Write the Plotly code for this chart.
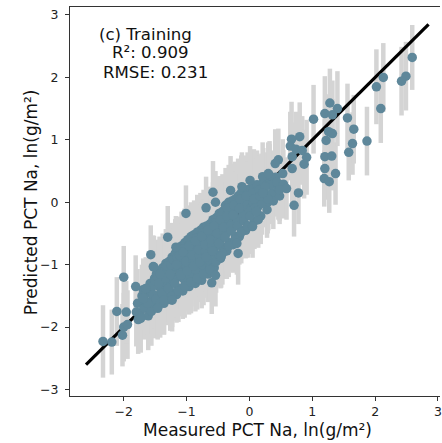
import plotly.graph_objects as go

# ---- data: measured (x), predicted (y), prediction uncertainty (half-length of bar)
upper_x = [2.59, 2.49, 2.42, 2.13, 2.02, 2.09, 1.87, 1.64, 1.66, 1.56, 1.58, 1.37,
           1.28, 1.40, 1.20, 1.32, 1.26, 1.32, 1.22, 1.20, 1.31, 1.20, 1.19, 1.27,
           1.02, 0.80, 0.67, 0.65, 0.74, 0.84, 0.91, 0.87, 0.68, 0.46, 0.68, 0.53,
           0.78, 0.71, 0.54, 0.32, 0.21, 0.01, 0.30, 0.41, 0.59, 0.48]
upper_y = [2.32, 2.02, 1.94, 2.00, 1.85, 1.50, 0.98, 0.94, 1.17, 1.35, 0.80, 0.46,
           1.59, 1.50, 1.42, 1.40, 1.13, 1.10, 0.99, 0.73, 0.74, 0.54, 0.38, 0.33,
           1.33, 1.05, 1.01, 0.90, 0.85, 0.83, 0.72, 0.61, 0.73, 0.68, 0.54, 0.46,
           0.15, -0.05, 0.29, 0.43, 0.41, 0.35, 0.46, 0.62, 0.22, 0.20]
upper_err = [0.52, 0.55, 0.55, 0.55, 0.60, 0.55, 0.55, 0.50, 0.55, 0.55, 0.45, 0.50,
             0.55, 0.60, 0.60, 0.55, 0.60, 0.55, 0.60, 0.60, 0.55, 0.50, 0.45, 0.50,
             0.55, 0.55, 0.60, 0.55, 0.60, 0.55, 0.60, 0.55, 0.55, 0.50, 0.55, 0.55,
             0.50, 0.50, 0.55, 0.55, 0.55, 0.55, 0.50, 0.55, 0.50, 0.50]

lower_x = [-2.33, -2.19, -2.02, -2.00, -1.94, -2.11, -2.00, -1.96, -1.81, -1.80, -1.73,
           -1.57, -1.53, -1.30, -1.17, -1.46, -1.62, -1.69, -1.65, -1.52, -1.42, -1.23]
lower_y = [-2.23, -2.24, -2.13, -2.00, -1.96, -1.75, -1.20, -1.76, -1.35, -1.76, -1.86,
           -0.84, -1.03, -0.56, -0.72, -1.70, -1.62, -1.54, -1.38, -1.04, -1.15, -1.57]
lower_err = [0.58, 0.52, 0.50, 0.55, 0.55, 0.55, 0.50, 0.50, 0.50, 0.55, 0.55,
             0.47, 0.50, 0.50, 0.50, 0.50, 0.50, 0.50, 0.50, 0.50, 0.50, 0.50]

edge_x = [-1.01, -0.69, -0.58, -0.54, -0.30, -0.12,
          -0.20, -0.18, -0.46, -0.54, -0.60, -0.03, 0.05, -0.45]
edge_y = [-0.18, -0.09, 0.16, 0.00, 0.19, 0.25,
          -0.66, -0.82, -0.88, -1.17, -1.29, -0.39, -0.39, -0.87]
edge_err = [0.45, 0.50, 0.50, 0.50, 0.55, 0.55,
            0.50, 0.50, 0.50, 0.50, 0.50, 0.50, 0.50, 0.50]

dense_x = [
    -1.78, -1.74, -1.71, -1.77,
    -1.68, -1.63, -1.66, -1.61, -1.69,
    -1.58, -1.54, -1.52, -1.57, -1.51, -1.56,
    -1.48, -1.44, -1.42, -1.47, -1.41, -1.46, -1.43,
    -1.38, -1.34, -1.32, -1.37, -1.31, -1.36, -1.33, -1.39,
    -1.28, -1.24, -1.22, -1.27, -1.21, -1.26, -1.23, -1.29, -1.20,
    -1.18, -1.14, -1.12, -1.17, -1.11, -1.16, -1.13, -1.19, -1.10,
    -1.08, -1.04, -1.02, -1.07, -1.01, -1.06, -1.03, -1.09, -1.00, -1.05,
    -0.98, -0.94, -0.92, -0.97, -0.91, -0.96, -0.93, -0.99, -0.90, -0.95,
    -0.88, -0.84, -0.82, -0.87, -0.81, -0.86, -0.83, -0.89, -0.80, -0.85,
    -0.78, -0.74, -0.72, -0.77, -0.71, -0.76, -0.73, -0.79, -0.70, -0.75,
    -0.68, -0.64, -0.62, -0.67, -0.61, -0.66, -0.63, -0.69, -0.60, -0.65,
    -0.58, -0.54, -0.52, -0.57, -0.51, -0.56, -0.53, -0.59, -0.50, -0.55,
    -0.48, -0.44, -0.42, -0.47, -0.41, -0.46, -0.43, -0.49, -0.40, -0.45,
    -0.38, -0.34, -0.32, -0.37, -0.31, -0.36, -0.33, -0.39, -0.30,
    -0.28, -0.24, -0.22, -0.27, -0.21, -0.26, -0.23, -0.29, -0.20,
    -0.18, -0.14, -0.12, -0.17, -0.11, -0.16, -0.13, -0.19, -0.10,
    -0.08, -0.04, -0.02, -0.07, -0.01, -0.06, -0.03, -0.09,
    0.02, 0.06, 0.08, 0.03, 0.09, 0.04, 0.07,
    0.12, 0.16, 0.18, 0.13, 0.19, 0.14,
    0.22, 0.26, 0.28, 0.23, 0.29,
    0.32, 0.36, 0.38, 0.34,
    0.42, 0.46, 0.48, 0.44]
dense_y = [
    -1.62, -1.80, -1.50, -1.88,
    -1.70, -1.45, -1.58, -1.82, -1.40,
    -1.30, -1.55, -1.68, -1.42, -1.22, -1.75,
    -1.15, -1.35, -1.60, -1.50, -1.25, -1.68, -1.10,
    -1.05, -1.28, -1.52, -1.40, -1.15, -1.62, -0.98, -1.20,
    -0.95, -1.18, -1.45, -1.32, -1.05, -1.56, -0.88, -1.12, -1.28,
    -0.82, -1.08, -1.38, -1.22, -0.95, -1.48, -0.78, -1.02, -1.18,
    -0.70, -0.98, -1.30, -1.12, -0.85, -1.42, -0.65, -0.90, -1.08, -1.22,
    -0.60, -0.88, -1.22, -1.05, -0.75, -1.35, -0.55, -0.80, -0.98, -1.15,
    -0.52, -0.80, -1.15, -0.98, -0.66, -1.30, -0.48, -0.72, -0.90, -1.08,
    -0.45, -0.72, -1.08, -0.92, -0.58, -1.25, -0.40, -0.65, -0.82, -1.00,
    -0.38, -0.62, -1.00, -0.85, -0.50, -1.15, -0.35, -0.55, -0.75, -0.92,
    -0.28, -0.52, -0.90, -0.75, -0.40, -1.05, -0.25, -0.45, -0.65, -0.82,
    -0.18, -0.42, -0.78, -0.62, -0.30, -0.90, -0.15, -0.35, -0.55, -0.70,
    -0.05, -0.30, -0.65, -0.50, -0.18, -0.78, 0.00, -0.25, -0.42,
    0.02, -0.22, -0.55, -0.40, -0.10, -0.68, 0.05, -0.15, -0.32,
    0.10, -0.12, -0.45, -0.30, 0.00, -0.55, 0.15, -0.05, -0.22,
    0.15, -0.08, -0.38, -0.22, 0.05, -0.45, 0.20, 0.00,
    0.22, 0.00, -0.30, -0.15, 0.12, -0.38, 0.25,
    0.28, 0.05, -0.22, -0.08, 0.18, -0.28,
    0.32, 0.10, -0.12, 0.20, 0.00,
    0.38, 0.15, 0.02, 0.28,
    0.40, 0.22, 0.10, 0.32]
dense_err = [
    0.55, 0.50, 0.50, 0.55,
    0.50, 0.55, 0.50, 0.55, 0.50,
    0.50, 0.55, 0.50, 0.55, 0.50, 0.55,
    0.55, 0.50, 0.50, 0.55, 0.60, 0.50, 0.55,
    0.55, 0.50, 0.45, 0.55, 0.60, 0.50, 0.55, 0.50,
    0.55, 0.50, 0.45, 0.55, 0.60, 0.50, 0.55, 0.50, 0.45,
    0.55, 0.50, 0.45, 0.55, 0.60, 0.45, 0.55, 0.50, 0.50,
    0.55, 0.50, 0.45, 0.55, 0.60, 0.45, 0.55, 0.50, 0.50, 0.45,
    0.55, 0.50, 0.45, 0.55, 0.60, 0.45, 0.55, 0.50, 0.50, 0.45,
    0.55, 0.50, 0.45, 0.55, 0.60, 0.45, 0.60, 0.50, 0.50, 0.45,
    0.60, 0.50, 0.45, 0.55, 0.60, 0.45, 0.60, 0.50, 0.50, 0.45,
    0.60, 0.50, 0.45, 0.55, 0.60, 0.45, 0.60, 0.50, 0.50, 0.45,
    0.60, 0.50, 0.45, 0.55, 0.60, 0.45, 0.60, 0.50, 0.50, 0.45,
    0.60, 0.50, 0.45, 0.55, 0.60, 0.45, 0.60, 0.50, 0.50, 0.45,
    0.60, 0.50, 0.45, 0.55, 0.60, 0.45, 0.60, 0.50, 0.50,
    0.60, 0.50, 0.45, 0.55, 0.60, 0.45, 0.60, 0.50, 0.50,
    0.60, 0.50, 0.45, 0.55, 0.60, 0.45, 0.60, 0.50, 0.50,
    0.60, 0.50, 0.45, 0.55, 0.60, 0.45, 0.60, 0.50,
    0.60, 0.50, 0.45, 0.55, 0.60, 0.45, 0.60,
    0.55, 0.50, 0.45, 0.55, 0.60, 0.45,
    0.55, 0.50, 0.45, 0.55, 0.50,
    0.55, 0.50, 0.45, 0.55,
    0.55, 0.50, 0.45, 0.55]

# second pass through the core of the cloud (fills the gaps between rows above)
fill_x = [
    -1.55, -1.53, -1.59, -1.50,
    -1.45, -1.40, -1.49, -1.44, -1.42,
    -1.35, -1.30, -1.39, -1.33, -1.36, -1.31,
    -1.25, -1.20, -1.29, -1.23, -1.26, -1.21,
    -1.15, -1.10, -1.19, -1.13, -1.16, -1.11,
    -1.05, -1.00, -1.09, -1.03, -1.06, -1.01,
    -0.95, -0.90, -0.99, -0.93, -0.96, -0.91,
    -0.85, -0.80, -0.89, -0.83, -0.86, -0.81,
    -0.75, -0.70, -0.79, -0.73, -0.76, -0.71,
    -0.65, -0.60, -0.69, -0.63, -0.66, -0.61,
    -0.55, -0.50, -0.59, -0.53, -0.56, -0.51,
    -0.45, -0.40, -0.49, -0.43, -0.46, -0.41,
    -0.35, -0.30, -0.39, -0.33, -0.36,
    -0.25, -0.20, -0.29, -0.23, -0.26,
    -0.15, -0.10, -0.19, -0.13, -0.16,
    -0.05, 0.00, -0.09, -0.03,
    0.05, 0.10, 0.01, 0.07,
    0.15, 0.20, 0.11, 0.17,
    0.25, 0.30, 0.21]
fill_y = [
    -1.35, -1.48, -1.62, -1.26,
    -1.20, -1.42, -1.55, -1.30, -1.62,
    -1.10, -1.33, -1.46, -1.22, -1.57, -1.02,
    -1.00, -1.24, -1.38, -1.50, -1.15, -0.92,
    -0.88, -1.14, -1.30, -1.42, -1.00, -0.85,
    -0.75, -1.03, -1.17, -1.35, -0.80, -0.95,
    -0.68, -0.93, -1.10, -1.28, -0.70, -0.85,
    -0.58, -0.85, -1.02, -1.22, -0.62, -0.76,
    -0.50, -0.78, -0.96, -1.15, -0.55, -0.68,
    -0.42, -0.70, -0.88, -1.08, -0.45, -0.60,
    -0.33, -0.60, -0.78, -0.95, -0.38, -0.50,
    -0.22, -0.48, -0.66, -0.82, -0.28, -0.40,
    -0.10, -0.38, -0.56, -0.70, -0.22,
    -0.05, -0.30, -0.46, -0.60, -0.20,
    0.05, -0.20, -0.38, -0.48, -0.10,
    0.10, -0.15, -0.30, -0.38,
    0.15, -0.08, -0.22, 0.05,
    0.20, -0.02, -0.15, 0.10,
    0.25, 0.05, 0.15]
fill_err = [
    0.50, 0.55, 0.50, 0.55,
    0.55, 0.50, 0.55, 0.50, 0.55,
    0.55, 0.50, 0.55, 0.50, 0.55, 0.50,
    0.55, 0.50, 0.55, 0.50, 0.55, 0.50,
    0.55, 0.50, 0.55, 0.50, 0.55, 0.50,
    0.55, 0.50, 0.55, 0.50, 0.55, 0.50,
    0.55, 0.50, 0.55, 0.50, 0.55, 0.50,
    0.55, 0.50, 0.55, 0.50, 0.55, 0.50,
    0.55, 0.50, 0.55, 0.50, 0.55, 0.50,
    0.55, 0.50, 0.55, 0.50, 0.55, 0.50,
    0.55, 0.50, 0.55, 0.50, 0.55, 0.50,
    0.55, 0.50, 0.55, 0.50, 0.55, 0.50,
    0.55, 0.50, 0.55, 0.50, 0.55,
    0.55, 0.50, 0.55, 0.50, 0.55,
    0.55, 0.50, 0.55, 0.50, 0.55,
    0.55, 0.50, 0.55, 0.50,
    0.55, 0.50, 0.55, 0.50,
    0.55, 0.50, 0.55, 0.50,
    0.55, 0.50, 0.55]

one_to_one = [-2.6, 2.85]

x_ticks = [-2, -1, 0, 1, 2, 3]
y_ticks = [-3, -2, -1, 0, 1, 2, 3]

title_lines = ["(c) Training", "R\u00b2: 0.909", "RMSE: 0.231"]
x_label = "Measured PCT Na, ln(g/m\u00b2)"
y_label = "Predicted PCT Na, ln(g/m\u00b2)"

# ---- assemble
meas = dense_x + fill_x + lower_x + edge_x + upper_x
pred = dense_y + fill_y + lower_y + edge_y + upper_y
unc = dense_err + fill_err + lower_err + edge_err + upper_err

FONT = "DejaVu Sans"
POINT = "#5e879a"
BAR = "#d4d4d4"

fig = go.Figure()
# uncertainty bars (below everything)
fig.add_trace(go.Scatter(
    x=meas, y=pred, mode="markers",
    marker=dict(size=1, color="rgba(0,0,0,0)"),
    error_y=dict(type="data", array=unc, color=BAR, thickness=4.5, width=0),
    hoverinfo="skip", showlegend=False))
# 1:1 line
fig.add_trace(go.Scatter(
    x=one_to_one, y=one_to_one, mode="lines",
    line=dict(color="black", width=3.2), showlegend=False))
# points
fig.add_trace(go.Scatter(
    x=meas, y=pred, mode="markers",
    marker=dict(size=9.5, color=POINT, line=dict(width=0)),
    showlegend=False))

axis_common = dict(
    showgrid=False, zeroline=False, showline=True, linecolor="#333333",
    linewidth=1.1, ticks="outside", ticklen=4, tickwidth=1, tickcolor="#333333",
    ticklabeloverflow="allow",
    tickfont=dict(family=FONT, size=12.5, color="#222222"))

fig.update_xaxes(range=[-2.855, 3.032], tickvals=x_ticks, mirror=True, **axis_common)
fig.update_yaxes(range=[-3.104, 3.128], tickvals=y_ticks, mirror=False,
                 ticklabelstandoff=4, **axis_common)

ann = []
centers = [(145.5, 34), (151.2, 52.5), (156.2, 72.5)]
for txt, (px, py) in zip(title_lines, centers):
    ann.append(dict(text=txt, xref="paper", yref="paper",
                    x=(px - 70) / 372, y=(396 - py) / 389,
                    xanchor="center", yanchor="middle", showarrow=False,
                    font=dict(family=FONT, size=16.6, color="#111111")))
ann.append(dict(text=x_label, xref="paper", yref="paper",
                x=(258.5 - 70) / 372, y=(396 - 430) / 389,
                xanchor="center", yanchor="middle", showarrow=False,
                font=dict(family=FONT, size=17, color="#111111")))
ann.append(dict(text=y_label, xref="paper", yref="paper", textangle=-90,
                x=(31 - 70) / 372, y=(396 - 202) / 389,
                xanchor="center", yanchor="middle", showarrow=False,
                font=dict(family=FONT, size=17, color="#111111")))

fig.update_layout(
    width=442, height=443,
    margin=dict(l=70, r=0, t=7, b=47),
    paper_bgcolor="white", plot_bgcolor="white",
    annotations=ann, showlegend=False)

fig.write_html(
    "out.html",
    config={"displayModeBar": False},
    post_script="document.body.style.margin='0';document.body.style.overflow='hidden';")
